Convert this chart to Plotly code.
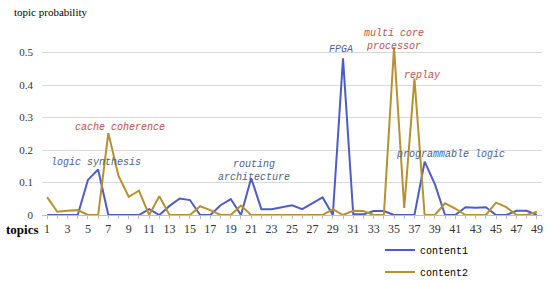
import plotly.graph_objects as go

topics = list(range(1, 50))

content1 = [0, 0, 0, 0, 0.108, 0.14, 0, 0, 0, 0,
            0.018, 0, 0.028, 0.051, 0.046, 0, 0, 0.03, 0.049, 0,
            0.113, 0.018, 0.018, 0.025, 0.03, 0.018, 0.036, 0.054, 0, 0.482,
            0.003, 0.002, 0.012, 0.012, 0, 0, 0, 0.164, 0.095, 0,
            0, 0.024, 0.022, 0.024, 0, 0, 0.013, 0.013, 0]

content2 = [0.055, 0.01, 0.013, 0.015, 0, 0, 0.252, 0.12, 0.056, 0.075,
            0, 0.058, 0, 0, 0, 0.027, 0.015, 0, 0, 0.029,
            0, 0, 0, 0, 0, 0, 0, 0, 0.018, 0,
            0.013, 0.012, 0, 0, 0.516, 0.022, 0.42, 0, 0, 0.036,
            0.02, 0, 0, 0, 0.038, 0.024, 0, 0, 0.01]

# topic labels: (text, x, y, colour)
topic_labels = [
    ("cache coherence", 8.15, 0.27, "#c0504d"),
    ("logic synthesis", 5.8, 0.163, "#4e5f8e"),
    ("routing<br>architecture", 21.3, 0.135, "#4e5f8e"),
    ("FPGA", 29.8, 0.508, "#4e5f8e"),
    ("multi core<br>processor", 35.0, 0.538, "#c0504d"),
    ("replay", 37.8, 0.43, "#c0504d"),
    ("programmable logic", 40.5, 0.185, "#4e5f8e"),
]

y_ticks = [0, 0.1, 0.2, 0.3, 0.4, 0.5, 0.6]
y_ticktext = ["0", "0.1", "0.2", "0.3", "0.4", "0.5", ""]
x_ticktext = [str(t) if t % 2 == 1 else "" for t in topics]

W, H = 550, 282
L, R, T, B = 42, 8, 20, 67

fig = go.Figure()
fig.add_trace(go.Scatter(x=topics, y=content1, mode="lines", name="content1",
                         legendgroup="c1", line=dict(color="#4f5cc4", width=2)))
fig.add_trace(go.Scatter(x=topics, y=content2, mode="lines", name="content2",
                         legendgroup="c2", line=dict(color="#b8912f", width=2)))

for text, x, y, color in topic_labels:
    fig.add_annotation(x=x, y=y, text=f"<i>{text}</i>", showarrow=False,
                       font=dict(family="Liberation Mono", size=10, color=color))

# axis titles, positioned in pixels then converted to paper coords
fig.add_annotation(x=(12 - L) / (W - L - R), y=(H - B - 12) / (H - T - B),
                   xref="paper", yref="paper", text="topic probability",
                   showarrow=False, xanchor="left", yanchor="middle",
                   font=dict(family="Liberation Serif", size=11, color="black"))
fig.add_annotation(x=(4 - L) / (W - L - R), y=(H - B - 229) / (H - T - B),
                   xref="paper", yref="paper", text="<b>topics</b>",
                   showarrow=False, xanchor="left", yanchor="middle",
                   font=dict(family="Liberation Serif", size=13, color="black"))

fig.update_layout(
    width=W, height=H,
    margin=dict(l=L, r=R, t=T, b=B, autoexpand=False),
    paper_bgcolor="white", plot_bgcolor="white",
    showlegend=True,
    legend=dict(x=0.676, y=-0.105, xanchor="left", yanchor="top",
                font=dict(family="Liberation Mono", size=10, color="black"),
                tracegroupgap=3, itemwidth=30),
    xaxis=dict(range=[0.5, 49.5], tickvals=topics, ticktext=x_ticktext,
               tickfont=dict(family="Liberation Serif", size=12, color="#333"),
               showgrid=False, showline=True, linecolor="#bfbfbf",
               ticks="outside", ticklen=3, tickcolor="#bfbfbf", zeroline=False,
               automargin=False),
    yaxis=dict(range=[0, 0.6], tickvals=y_ticks, ticktext=y_ticktext,
               tickfont=dict(family="Liberation Serif", size=11, color="#333"),
               showgrid=True, gridcolor="#d9d9d9", zeroline=False,
               ticklabelstandoff=8, automargin=False),
)

fig.write_html("out.html", config={"displayModeBar": False},
               post_script="document.body.style.margin = '0';")
